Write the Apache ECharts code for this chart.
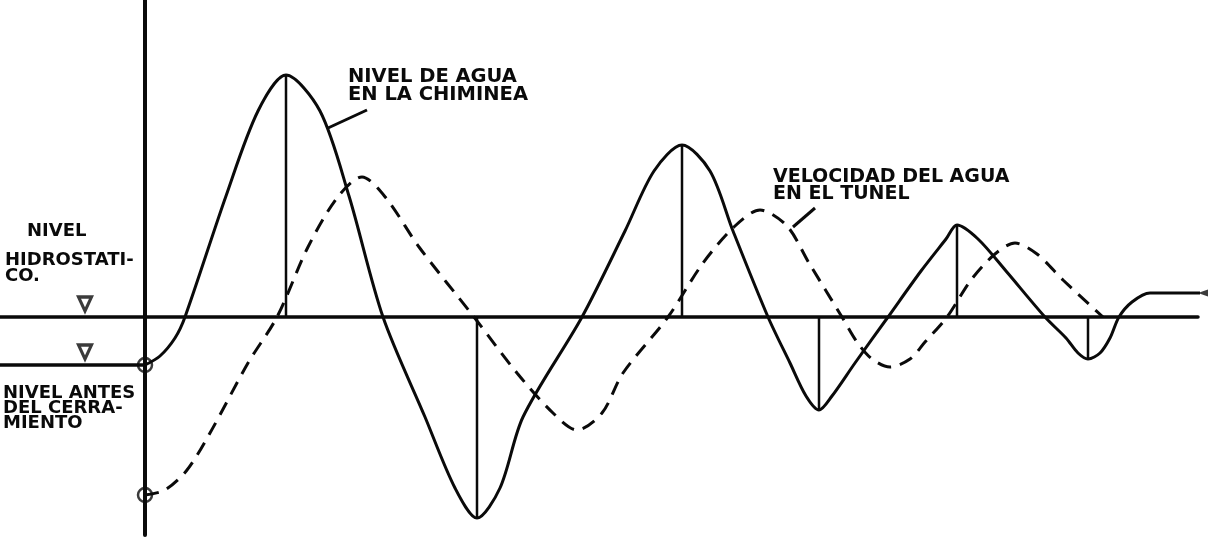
<!DOCTYPE html>
<html>
<head>
<meta charset="utf-8">
<script src="https://cdn.jsdelivr.net/npm/echarts@6/dist/echarts.min.js"></script>
<style>
  html, body { margin: 0; padding: 0; background: #fff; }
  #chart { width: 1229px; height: 539px; }
</style>
</head>
<body>
<div id="chart"></div>
<script>
// Tiempo (abscisa) y nivel del agua en la chimenea, relativo al nivel hidrostático
const nivelT = [0, 1.5, 3.0, 4.0, 8.1, 11.3, 14.1, 17.5, 20.4, 23.8,
  28.0, 31.0, 33.2, 35.5, 37.8, 43.7,
  48.0, 50.9, 53.7, 56.5, 58.8, 62.3,
  64.5, 66.1, 67.4, 68.7, 71.0, 74.3,
  77.6, 80.1, 81.2, 83.3, 86.1, 90.0,
  92.1, 93.3, 94.3, 95.5, 96.5, 97.4, 98.7, 100.5, 107.8];
const nivelY = [-4.8, -3.9, -2.1, 0, 12.1, 20.6, 24.2, 20.6, 12.1, 0,
  -10.0, -17.1, -20.1, -17.1, -10.0, 0,
  8.6, 14.6, 17.2, 14.6, 8.6, 0,
  -4.6, -7.9, -9.3, -7.9, -4.6, 0,
  4.6, 7.8, 9.2, 7.8, 4.6, 0,
  -2.1, -3.6, -4.2, -3.6, -2.1, 0, 1.5, 2.4, 2.4];

// Velocidad del agua en el túnel
const velT = [0, 2.0, 4.2, 6.5, 10.3, 13.2, 16.3, 19.2, 21.7, 24.1, 27.4, 32.9,
  37.2, 40.8, 43.2, 45.7, 47.8, 52.3,
  55.8, 59.0, 61.5, 64.2, 66.4, 69.7,
  71.2, 72.7, 74.5, 76.5, 78.0, 80.2,
  82.6, 85.0, 87.0, 89.2, 91.8, 95.8];
const velY = [-17.8, -17.3, -15.3, -11.6, -4.6, 0, 7.0, 11.9, 14.0, 11.9, 7.0, 0,
  -5.6, -9.6, -11.3, -9.6, -5.6, 0,
  5.4, 9.1, 10.7, 9.1, 5.4, 0,
  -2.5, -4.2, -5.0, -4.2, -2.5, 0,
  3.7, 6.3, 7.4, 6.3, 3.7, 0];

// Niveles de referencia
const nivelAntes = -4.8;
const nivelInicialVel = -17.8;
const marcasNivel = [[-6, 1.3], [-6, -3.5]];
const flechaFinal = [[105.8, 2.4]];

// Rayas de referencia de los letreros
const guiaChimenea = [[18.3, 18.9], [22.2, 20.7]];
const guiaTunel = [[64.8, 9.0], [67.0, 10.9]];

const zip = (a, b) => a.map((v, i) => [v, b[i]]);
const nivel = zip(nivelT, nivelY);
const vel = zip(velT, velY);

// Verticales desde cada extremo de la oscilación hasta el nivel hidrostático
const verticales = [];
for (let i = 1; i < nivel.length - 1; i++) {
  const [p, c, n] = [nivel[i - 1][1], nivel[i][1], nivel[i + 1][1]];
  if ((c > p && c > n) || (c < p && c < n)) {
    verticales.push([nivel[i][0], 0], nivel[i], '-');
  }
}

const INK = '#0a0a0a';
const FONT = '"DejaVu Sans", sans-serif';

const chart = echarts.init(document.getElementById('chart'), null, { renderer: 'canvas' });

const lineSeries = (data, style, extra) => Object.assign({
  type: 'line', data, symbol: 'none', silent: true, clip: false,
  lineStyle: Object.assign({ color: INK, width: 3 }, style)
}, extra || {});

chart.setOption({
  animation: false,
  backgroundColor: '#fff',
  grid: { left: 0, right: 31, top: 0, bottom: 4 },
  xAxis: {
    type: 'value', min: -14.5, max: 105.3,
    axisLine: { show: true, onZero: true, lineStyle: { color: INK, width: 3.5 } },
    axisTick: { show: false }, axisLabel: { show: false }, splitLine: { show: false }
  },
  yAxis: {
    type: 'value', min: -21.8, max: 31.7,
    axisLine: { show: true, onZero: true, lineStyle: { color: INK, width: 4 } },
    axisTick: { show: false }, axisLabel: { show: false }, splitLine: { show: false }
  },
  series: [
    lineSeries([[-14.5, nivelAntes], [0, nivelAntes]], { width: 3.5 }),
    lineSeries(verticales, { width: 2.5 }, { connectNulls: false }),
    lineSeries(nivel, { width: 3 }, { smooth: 0.3 }),
    lineSeries(vel, { width: 3, type: [14, 9] }, { smooth: 0.3 }),
    lineSeries(guiaChimenea, { width: 3 }),
    lineSeries(guiaTunel, { width: 3 }),
    {
      type: 'scatter', silent: true, clip: false,
      data: [[0, nivelAntes], [0, nivelInicialVel]],
      symbol: 'circle', symbolSize: 14,
      itemStyle: { color: 'rgba(0,0,0,0)', borderColor: INK, borderWidth: 2.5 }
    },
    {
      type: 'scatter', silent: true, clip: false,
      data: marcasNivel,
      symbol: 'triangle', symbolSize: [13, 14], symbolRotate: 180,
      itemStyle: { color: 'rgba(0,0,0,0)', borderColor: INK, borderWidth: 3.2 }
    },
    {
      type: 'scatter', silent: true, clip: false,
      data: flechaFinal,
      symbol: 'triangle', symbolSize: [7, 10], symbolRotate: 90,
      itemStyle: { color: INK }
    }
  ],
  graphic: [
    { type: 'text', left: 348, top: 67, style: { text: 'NIVEL DE AGUA\nEN LA CHIMINEA', font: 'bold 19.5px ' + FONT, fill: INK, lineHeight: 18 } },
    { type: 'text', left: 773, top: 168, style: { text: 'VELOCIDAD DEL AGUA\nEN EL TUNEL', font: 'bold 19px ' + FONT, fill: INK, lineHeight: 17 } },
    { type: 'text', left: 27, top: 222, style: { text: 'NIVEL', font: 'bold 18px ' + FONT, fill: INK } },
    { type: 'text', left: 5, top: 251, style: { text: 'HIDROSTATI-\nCO.', font: 'bold 18px ' + FONT, fill: INK, lineHeight: 16 } },
    { type: 'text', left: 3, top: 384, style: { text: 'NIVEL ANTES\nDEL CERRA-\nMIENTO', font: 'bold 18px ' + FONT, fill: INK, lineHeight: 15 } }
  ]
});
</script>
</body>
</html>
